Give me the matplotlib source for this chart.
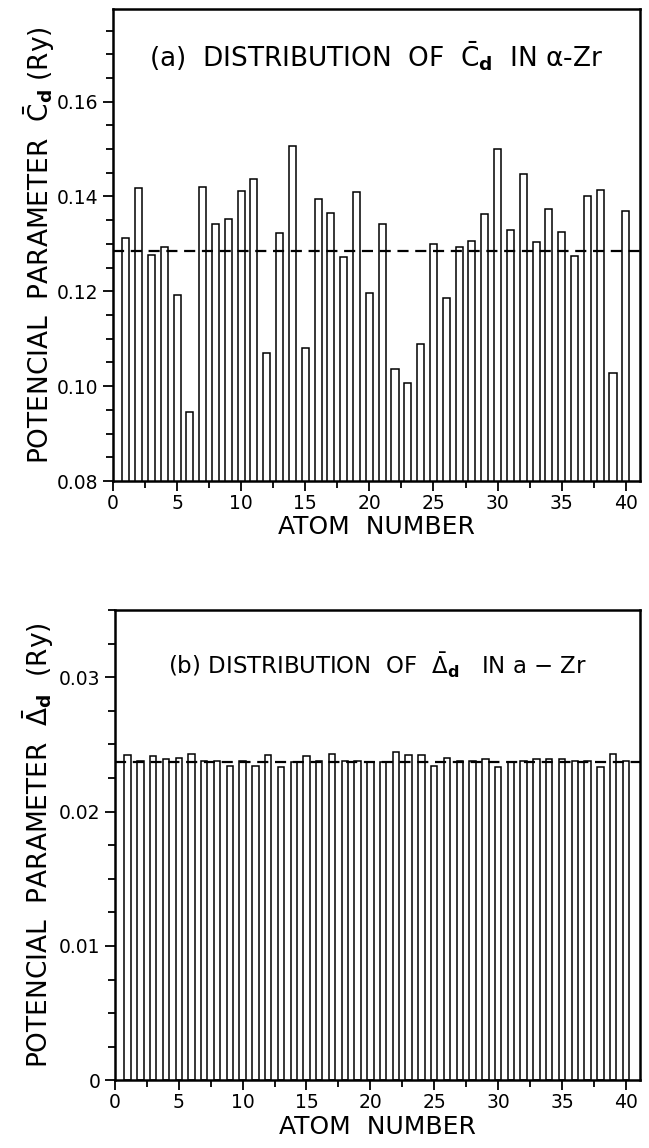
import numpy as np
import matplotlib
matplotlib.use('Agg')
import matplotlib.pyplot as plt
from matplotlib.ticker import MultipleLocator, FormatStrFormatter

plt.rcParams['font.family'] = ['DejaVu Sans']
plt.rcParams['mathtext.fontset'] = 'dejavusans'

# data
atoms = np.arange(1, 41)
cd_values = [0.1312, 0.1418, 0.1277, 0.1293, 0.1193, 0.0945, 0.1420, 0.1341, 0.1353, 0.1411,
             0.1436, 0.1069, 0.1323, 0.1506, 0.1081, 0.1394, 0.1366, 0.1273, 0.1409, 0.1197,
             0.1341, 0.1037, 0.1007, 0.1088, 0.1300, 0.1186, 0.1294, 0.1307, 0.1364, 0.1501,
             0.1330, 0.1447, 0.1303, 0.1374, 0.1325, 0.1274, 0.1400, 0.1414, 0.1028, 0.1369]
cd_mean = 0.1284

delta_values = [0.0242, 0.0238, 0.0241, 0.0239, 0.0240, 0.0243, 0.0238, 0.0238, 0.0234, 0.0238,
                0.0234, 0.0242, 0.0233, 0.0237, 0.0241, 0.0238, 0.0243, 0.0238, 0.0238, 0.0237,
                0.0237, 0.0244, 0.0242, 0.0242, 0.0234, 0.0240, 0.0238, 0.0238, 0.0239, 0.0233,
                0.0237, 0.0238, 0.0239, 0.0239, 0.0239, 0.0238, 0.0238, 0.0233, 0.0243, 0.0238]
delta_mean = 0.0237

fig = plt.figure(figsize=(6.49, 11.48), dpi=100)


def style_axes(ax):
    for s in ax.spines.values():
        s.set_linewidth(1.8)
    ax.xaxis.set_major_locator(MultipleLocator(5))
    ax.xaxis.set_minor_locator(MultipleLocator(2.5))
    ax.tick_params(which='both', direction='out', width=1.3, labelsize=13.5)
    ax.tick_params(which='major', length=7)
    ax.tick_params(which='minor', length=5)
    ax.tick_params(axis='x', pad=2)
    ax.set_xlim(0, 41.1)
    ax.set_xlabel('ATOM  NUMBER', fontsize=18, labelpad=2)


# (a)
ax1 = fig.add_axes([0.174, 0.581, 0.812, 0.411])
ax1.bar(atoms, cd_values, width=0.55, color='white', edgecolor='black', linewidth=1.1)
ax1.axhline(cd_mean, color='black', linestyle=(0, (5, 3)), linewidth=1.6)
ax1.set_ylim(0.08, 0.1795)
ax1.yaxis.set_major_locator(MultipleLocator(0.02))
ax1.yaxis.set_minor_locator(MultipleLocator(0.005))
ax1.yaxis.set_major_formatter(FormatStrFormatter('%.2f'))
style_axes(ax1)
ax1.set_ylabel(r'POTENCIAL  PARAMETER  $\bar{\mathrm{C}}_\mathbf{d}$ (Ry)', fontsize=19, labelpad=0)
ax1.text(0.5, 0.9, r'(a)  DISTRIBUTION  OF  $\bar{\mathrm{C}}_\mathbf{d}$  IN α-Zr',
         transform=ax1.transAxes, ha='center', va='center', fontsize=19)

# (b)
ax2 = fig.add_axes([0.177, 0.059, 0.809, 0.4096])
ax2.bar(atoms, delta_values, width=0.5, color='white', edgecolor='black', linewidth=1.1)
ax2.axhline(delta_mean, color='black', linestyle=(0, (5, 3)), linewidth=1.6)
ax2.set_ylim(0, 0.035)
ax2.yaxis.set_major_locator(MultipleLocator(0.01))
ax2.yaxis.set_minor_locator(MultipleLocator(0.0025))
ax2.yaxis.set_major_formatter(plt.FuncFormatter(lambda v, p: '0' if v == 0 else '%.2f' % v))
style_axes(ax2)
ax2.set_ylabel(r'POTENCIAL  PARAMETER  $\bar{\Delta}_\mathbf{d}$  (Ry)', fontsize=19, labelpad=2)
ax2.text(0.5, 0.883, r'(b) DISTRIBUTION  OF  $\bar{\Delta}_\mathbf{d}$   IN a $-$ Zr',
         transform=ax2.transAxes, ha='center', va='center', fontsize=16.5)

fig.savefig('out.png', dpi=100)
